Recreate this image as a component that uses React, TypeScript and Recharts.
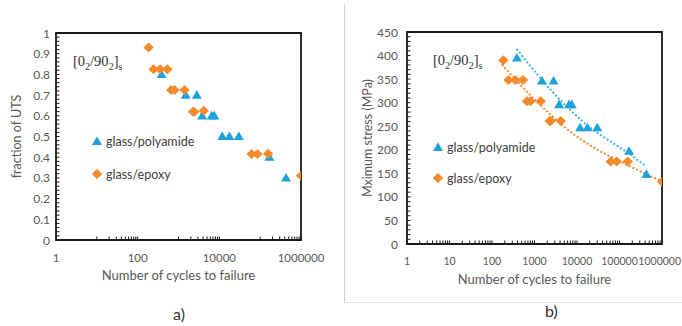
import React from 'react';
import { ScatterChart, Scatter, XAxis, YAxis, ReferenceArea, Legend } from 'recharts';

// cycles to failure
const polyamideCycles = [385, 1500, 2800, 3800, 6500, 7500, 11800, 17600, 30000, 168000, 430000];
const epoxyCycles = [185, 245, 355, 535, 665, 800, 1400, 2270, 2420, 4150, 62000, 86000, 157000, 1000000];

// a) fraction of UTS
const polyamideFraction = [0.8, 0.7, 0.7, 0.6, 0.6, 0.6, 0.5, 0.5, 0.5, 0.4, 0.3];
const epoxyFraction = [0.93, 0.825, 0.825, 0.825, 0.725, 0.725, 0.725, 0.62, 0.62, 0.625, 0.415, 0.415, 0.417, 0.31];

// b) maximum stress (MPa)
const polyamideStress = [395, 346, 346, 296, 296, 296, 247, 247, 247, 197, 148];
const epoxyStress = [390, 348, 348, 348, 303, 303, 303, 261, 261, 261, 175, 175, 175, 132];

// dotted trend lines in b)
const polyamideTrendCycles = [380, 4400, 15500, 178000, 405000];
const polyamideTrendStress = [414, 302, 256, 190, 166];
const epoxyTrendCycles = [170, 1030, 7550, 62000, 149000, 1000000];
const epoxyTrendStress = [381, 306, 236, 185, 168, 133];

const xTicksA = [1, 100, 10000, 1000000];
const xTicksB = [1, 10, 100, 1000, 10000, 100000, 1000000];
const yTicksA = [0, 0.1, 0.2, 0.3, 0.4, 0.5, 0.6, 0.7, 0.8, 0.9, 1];
const yTicksB = [0, 50, 100, 150, 200, 250, 300, 350, 400, 450];

const seriesNames = ['glass/polyamide', 'glass/epoxy'];
const xTitle = 'Number of cycles to failure';

const BLUE = '#1ea2db';
const ORANGE = '#f58a2c';
const FONT = "Lato, 'Liberation Sans', sans-serif";
const AXIS = '#1a1a1a';
const LABEL = '#595959';

// minor tick marks (Excel style, drawn inside the plot)
const steps = [1, 2, 3, 4, 5, 6, 7, 8, 9];
const minorXA = [10, 1000, 100000].flatMap((b) => steps.map((k) => b * k)).concat(xTicksA).sort((a, b) => a - b);
const minorXB = [1, 10, 100, 1000, 10000, 100000].flatMap((b) => steps.map((k) => b * k)).concat([1000000]);
const minorYA = Array.from({ length: 51 }, (_, i) => Number((i / 50).toFixed(2)));
const minorYB = Array.from({ length: 46 }, (_, i) => i * 10);

const toPoints = (xs: number[], ys: number[]) => xs.map((x, i) => ({ x, y: ys[i] }));

const Triangle = (props: any) => {
  const { cx, cy, fill } = props;
  return <polygon points={`${cx},${cy - 5} ${cx + 5},${cy + 3.6} ${cx - 5},${cy + 3.6}`} fill={fill} />;
};

const Diamond = (props: any) => {
  const { cx, cy, fill } = props;
  return <polygon points={`${cx},${cy - 5} ${cx + 5.2},${cy} ${cx},${cy + 5} ${cx - 5.2},${cy}`} fill={fill} />;
};

const XTick = (props: any) => {
  const { x, y, payload, majors, maxRight, fontSize } = props;
  const v = payload.value;
  const major = majors.includes(v);
  const label = String(v);
  const half = label.length * fontSize * 0.29;
  const tx = maxRight && x + half > maxRight ? maxRight - half : x;
  return (
    <g>
      <line x1={x} x2={x} y1={y - 3.5} y2={y} stroke={AXIS} strokeWidth={1} />
      {major && (
        <text x={tx} y={y + 17} textAnchor="middle" dominantBaseline="central" fontFamily={FONT} fontSize={fontSize} fill={LABEL}>
          {label}
        </text>
      )}
    </g>
  );
};

const YTick = (props: any) => {
  const { x, y, payload, majors, gap } = props;
  const v = payload.value;
  const major = majors.includes(v);
  return (
    <g>
      <line x1={x} x2={x + 3.5} y1={y} y2={y} stroke={AXIS} strokeWidth={1} />
      {major && (
        <text x={x - gap} y={y} textAnchor="end" dominantBaseline="central" fontFamily={FONT} fontSize={12} fill={LABEL}>
          {v}
        </text>
      )}
    </g>
  );
};

const LegendContent = ({ gap }: { gap: number }) => (
  <div style={{ fontFamily: FONT, fontSize: 12.5, color: '#404040' }}>
    {seriesNames.map((name, i) => (
      <div key={name} style={{ display: 'flex', alignItems: 'center', height: 16, marginBottom: i === 0 ? gap - 16 : 0 }}>
        <svg width={12} height={12} style={{ marginRight: 3 }}>
          {i === 0 ? <Triangle cx={6} cy={6.5} fill={BLUE} /> : <Diamond cx={6} cy={6} fill={ORANGE} />}
        </svg>
        <span>{name}</span>
      </div>
    ))}
  </div>
);

const Layup = ({ left, top }: { left: number; top: number }) => (
  <div style={{ position: 'absolute', left, top, fontFamily: "'Liberation Serif', serif", fontSize: 14.5, color: '#333', lineHeight: '18px' }}>
    [0<sub style={{ fontSize: 10 }}>2</sub>/90<sub style={{ fontSize: 10 }}>2</sub>]<sub style={{ fontSize: 10 }}>s</sub>
  </div>
);

const xTitleStyle = { fontFamily: FONT, fontSize: 13, fill: LABEL, textAnchor: 'middle' as const };
const yTitleStyle = { fontFamily: FONT, fontSize: 12.5, fill: LABEL, textAnchor: 'middle' as const };

export default function App() {
  return (
    <div style={{ position: 'absolute', left: 0, top: 0, width: 682, height: 326, background: '#fff', overflow: 'hidden' }}>
      {/* panel a */}
      <div style={{ position: 'absolute', left: 0, top: 0 }}>
        <ScatterChart width={340} height={290} margin={{ top: 33, right: 39, bottom: 20, left: 0 }}>
          <XAxis dataKey="x" type="number" scale="log" domain={[1, 1000000]} allowDataOverflow ticks={minorXA} interval={0}
            tickLine={false} axisLine={false} tickSize={0} tickMargin={0} height={30}
            tick={<XTick majors={xTicksA} fontSize={11.5} />}
            label={{ value: xTitle, position: 'bottom', offset: 1, style: xTitleStyle }} />
          <YAxis dataKey="y" type="number" domain={[0, 1]} allowDataOverflow ticks={minorYA} interval={0}
            tickLine={false} axisLine={false} tickSize={0} tickMargin={0} width={56}
            tick={<YTick majors={yTicksA} gap={6} />}
            label={{ value: 'fraction of UTS', angle: -90, position: 'insideLeft', offset: 17, style: yTitleStyle }} />
          <ReferenceArea x1={1} x2={1000000} y1={0} y2={1} fill="none" fillOpacity={0} stroke={AXIS} strokeWidth={1.8} ifOverflow="visible" />
          <Legend layout="vertical" align="center" verticalAlign="middle"
            wrapperStyle={{ left: 91, top: 133, width: 'auto' }} content={() => <LegendContent gap={33} />} />
          <Scatter name={seriesNames[0]} data={toPoints(polyamideCycles, polyamideFraction)} fill={BLUE} shape={Triangle} isAnimationActive={false} />
          <Scatter name={seriesNames[1]} data={toPoints(epoxyCycles, epoxyFraction)} fill={ORANGE} shape={Diamond} isAnimationActive={false} />
        </ScatterChart>
        <Layup left={73} top={52} />
      </div>
      <div style={{ position: 'absolute', left: 173, top: 304, fontFamily: FONT, fontSize: 16, color: '#333' }}>a)</div>

      {/* panel b */}
      <div style={{ position: 'absolute', left: 344, top: 4, width: 360, height: 298, borderLeft: '1px solid #d4d4d4', borderBottom: '1px solid #e4e4e4' }} />
      <div style={{ position: 'absolute', left: 344, top: 0 }}>
        <ScatterChart width={338} height={300} margin={{ top: 32, right: 20, bottom: 26, left: 0 }}>
          <XAxis dataKey="x" type="number" scale="log" domain={[1, 1000000]} allowDataOverflow ticks={minorXB} interval={0}
            tickLine={false} axisLine={false} tickSize={0} tickMargin={0} height={30}
            tick={<XTick majors={xTicksB} maxRight={337} fontSize={10.5} />}
            label={{ value: xTitle, position: 'bottom', offset: 1, style: xTitleStyle }} />
          <YAxis dataKey="y" type="number" domain={[0, 450]} allowDataOverflow ticks={minorYB} interval={0}
            tickLine={false} axisLine={false} tickSize={0} tickMargin={0} width={63}
            tick={<YTick majors={yTicksB} gap={9} />}
            label={{ value: 'Mximum stress (MPa)', angle: -90, position: 'insideLeft', offset: 24, style: yTitleStyle }} />
          <ReferenceArea x1={1} x2={1000000} y1={0} y2={450} fill="none" fillOpacity={0} stroke={AXIS} strokeWidth={1.8} ifOverflow="visible" />
          <Legend layout="vertical" align="center" verticalAlign="middle"
            wrapperStyle={{ left: 88, top: 139, width: 'auto' }} content={() => <LegendContent gap={31} />} />
          <Scatter name="trend polyamide" legendType="none" data={toPoints(polyamideTrendCycles, polyamideTrendStress)}
            line={{ stroke: '#3db3e6', strokeWidth: 2, strokeDasharray: '2 2' }} lineJointType="monotoneX" shape={() => null} isAnimationActive={false} />
          <Scatter name="trend epoxy" legendType="none" data={toPoints(epoxyTrendCycles, epoxyTrendStress)}
            line={{ stroke: ORANGE, strokeWidth: 2, strokeDasharray: '2 2' }} lineJointType="monotoneX" shape={() => null} isAnimationActive={false} />
          <Scatter name={seriesNames[0]} data={toPoints(polyamideCycles, polyamideStress)} fill={BLUE} shape={Triangle} isAnimationActive={false} />
          <Scatter name={seriesNames[1]} data={toPoints(epoxyCycles, epoxyStress)} fill={ORANGE} shape={Diamond} isAnimationActive={false} />
        </ScatterChart>
        <Layup left={89} top={51} />
      </div>
      <div style={{ position: 'absolute', left: 545, top: 301, fontFamily: FONT, fontSize: 16, color: '#333' }}>b)</div>
    </div>
  );
}
